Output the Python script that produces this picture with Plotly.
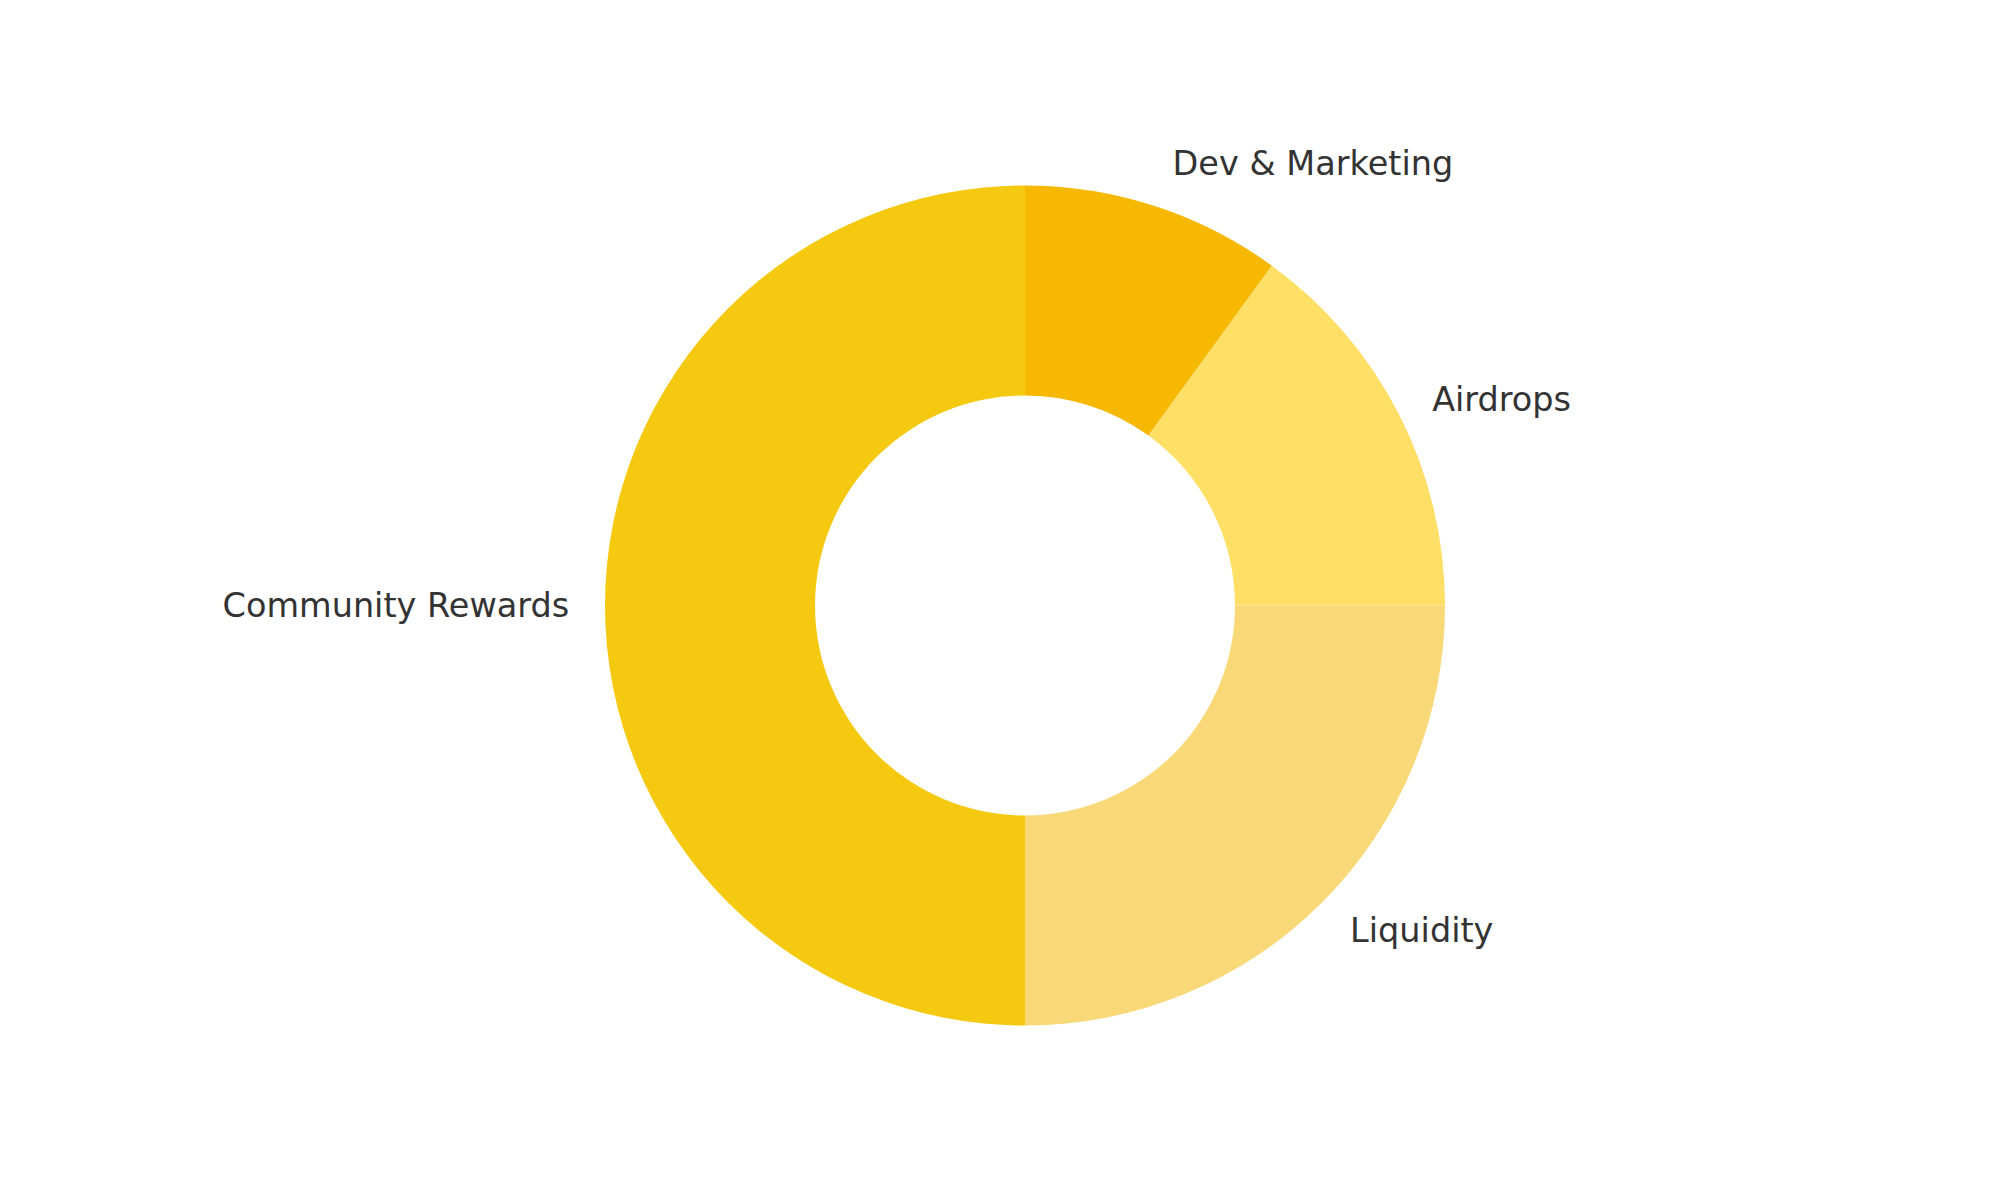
import plotly.graph_objects as go

categories = ["Dev & Marketing", "Airdrops", "Liquidity", "Community Rewards"]
shares = [10, 15, 25, 50]
colors = ["#F6B800", "#FFDF66", "#F8D877", "#F5C910"]

# ring
fig = go.Figure()
fig.add_trace(
    go.Pie(
        labels=categories,
        values=shares,
        hole=0.5,
        sort=False,
        direction="clockwise",
        rotation=0,
        marker=dict(colors=colors, line=dict(width=0)),
        textinfo="none",
        hoverinfo="label+percent",
        showlegend=False,
        domain=dict(x=[0.2985, 0.7185], y=[0.15208, 0.85208]),
    )
)
# transparent, slightly larger ring that only carries the outside labels
fig.add_trace(
    go.Pie(
        labels=categories,
        values=shares,
        hole=0.95,
        sort=False,
        direction="clockwise",
        rotation=0,
        marker=dict(colors=["rgba(0,0,0,0)"] * len(categories), line=dict(width=0)),
        textinfo="label",
        textposition="outside",
        outsidetextfont=dict(family="DejaVu Sans", size=33.5, color="#333333"),
        hoverinfo="skip",
        showlegend=False,
        domain=dict(x=[0.2855, 0.7315], y=[0.13042, 0.87375]),
    )
)

fig.update_layout(
    width=2000,
    height=1200,
    margin=dict(l=0, r=0, t=0, b=0),
    paper_bgcolor="#FFFFFF",
    plot_bgcolor="#FFFFFF",
    font=dict(family="DejaVu Sans", color="#333333"),
)

fig.write_html("out.html")
